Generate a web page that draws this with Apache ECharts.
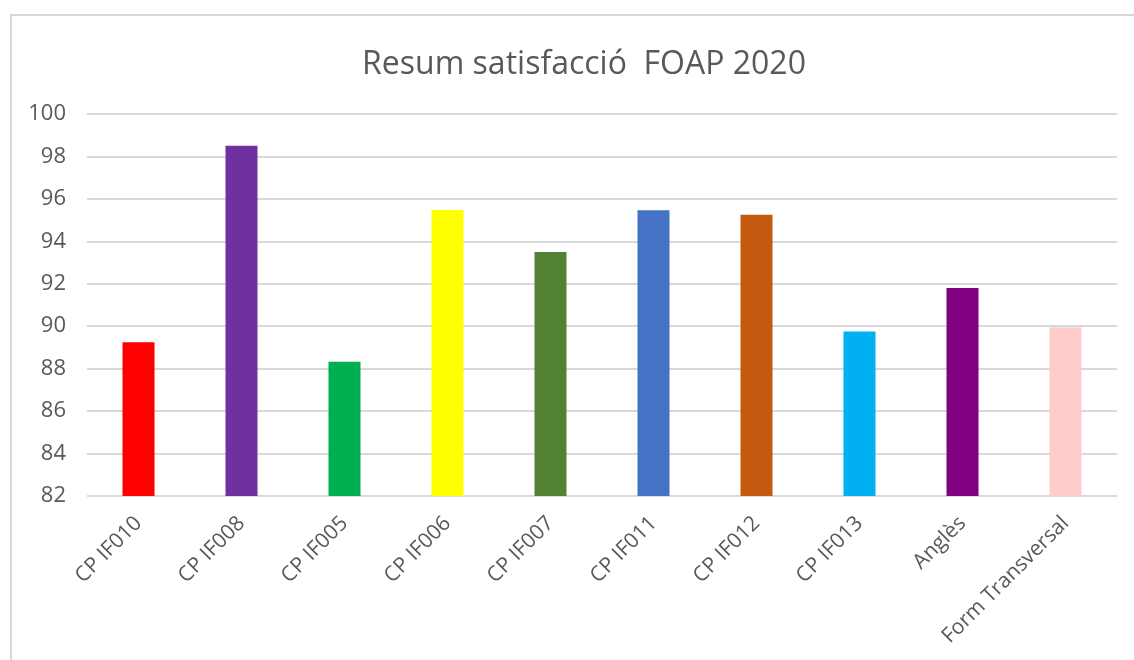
<!DOCTYPE html>
<html>
<head>
<meta charset="utf-8">
<script src="https://cdn.jsdelivr.net/npm/echarts@6/dist/echarts.min.js"></script>
<style>
  html, body { margin: 0; padding: 0; background: #fff; }
  #chart { width: 1134px; height: 660px; }
</style>
</head>
<body>
<div id="chart"></div>
<script>
// categories and values
const categories = ['CP IF010', 'CP IF008', 'CP IF005', 'CP IF006', 'CP IF007',
  'CP IF011', 'CP IF012', 'CP IF013', 'Anglès', 'Form Transversal'];
const values = [89.25, 98.5, 88.33, 95.48, 93.5, 95.47, 95.25, 89.75, 91.8, 89.95];
const barColors = ['#FF0000', '#7030A0', '#00B050', '#FFFF00', '#548235',
  '#4472C4', '#C55A11', '#00B0F0', '#800080', '#FFCCCC'];
const yTicks = [82, 84, 86, 88, 90, 92, 94, 96, 98, 100];

const textColor = '#595959';
const gridColor = '#d9d9d9';

let myChart = echarts.init(document.getElementById('chart'));
myChart.setOption({
  animation: false,
  textStyle: { fontFamily: 'Open Sans' },
  title: {
    text: 'Resum satisfacció  FOAP 2020',
    left: 579,
    top: 44,
    textAlign: 'center',
    textStyle: { fontFamily: 'Open Sans', fontSize: 32, fontWeight: 'normal', color: textColor }
  },
  graphic: [{
    type: 'rect',
    shape: { x: 11, y: 15, width: 1300, height: 800 },
    style: { fill: 'none', stroke: gridColor, lineWidth: 2 },
    silent: true
  }],
  grid: { left: 87, right: 17, top: 114, bottom: 164 },
  xAxis: {
    type: 'category',
    data: categories,
    axisLine: { show: false },
    axisTick: { show: false },
    axisLabel: {
      rotate: 45,
      interval: 0,
      margin: 24,
      fontSize: 21,
      color: textColor,
      fontFamily: 'Open Sans'
    }
  },
  yAxis: {
    type: 'value',
    min: yTicks[0],
    max: yTicks[yTicks.length - 1],
    interval: 2,
    axisLine: { show: false },
    axisTick: { show: false },
    axisLabel: { fontSize: 22, color: textColor, margin: 21, fontFamily: 'Open Sans' },
    splitLine: { lineStyle: { color: gridColor, width: 2 } }
  },
  series: [{
    type: 'bar',
    barWidth: 32,
    data: values.map((v, i) => ({ value: v, itemStyle: { color: barColors[i] } }))
  }]
});
</script>
</body>
</html>
